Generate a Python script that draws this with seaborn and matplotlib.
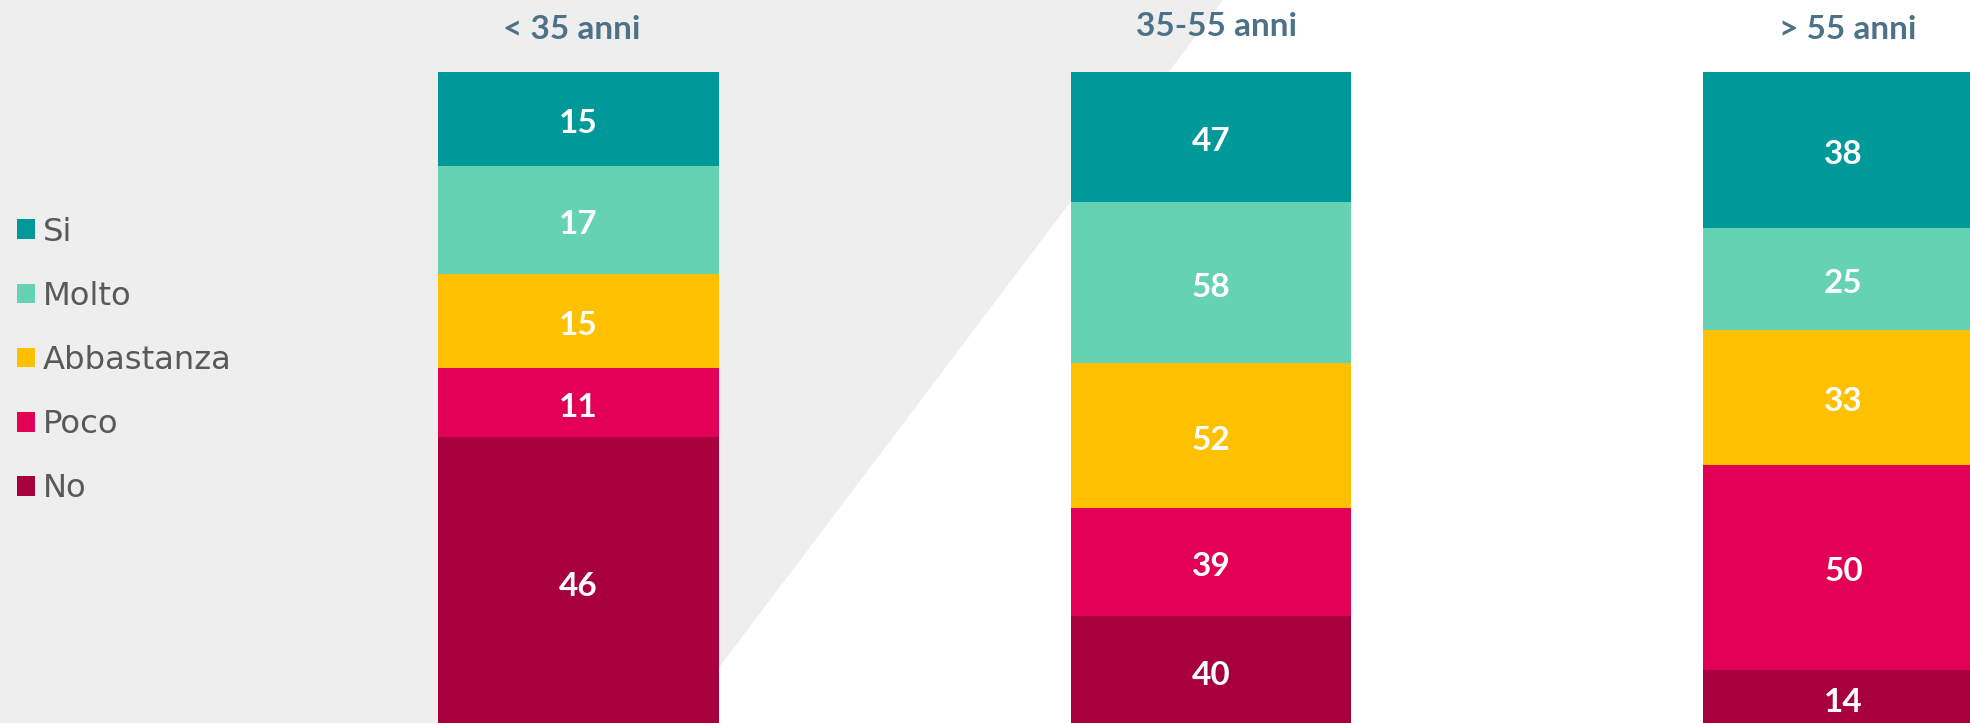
import numpy as np
import pandas as pd
import seaborn as sns
import matplotlib.pyplot as plt
import matplotlib.transforms as mtransforms
from matplotlib.patches import Polygon

# data
gruppi = ["< 35 anni", "35-55 anni", "> 55 anni"]
risposte = ["Si", "Molto", "Abbastanza", "Poco", "No"]
si = [15, 47, 38]
molto = [17, 58, 25]
abbastanza = [15, 52, 33]
poco = [11, 39, 50]
no = [46, 40, 14]

colori = ["#009999", "#66D2B4", "#FFC000", "#E10055", "#A8003F"]
colore_titoli = "#4D7288"

valori = dict(zip(risposte, [si, molto, abbastanza, poco, no]))
df = pd.DataFrame(
    [(g, r, valori[r][g]) for g in range(len(gruppi)) for r in risposte],
    columns=["gruppo", "risposta", "valore"],
)

sns.set_theme(style="white")
plt.rcParams["font.family"] = ["DejaVu Sans"]

fig = plt.figure(figsize=(19.7, 7.23), dpi=100)
fig.patch.set_facecolor("white")

# grey diagonal panel behind the left part of the slide
fig.patches.append(Polygon([(0, 1), (0.6208, 1), (0.3437, 0), (0, 0)], closed=True,
                           transform=fig.transFigure, facecolor="#EEEEEE",
                           edgecolor="none", zorder=-1))

ax = fig.add_axes([0, 0, 1, 1])
ax.set_facecolor("none")

sns.histplot(data=df, x="gruppo", hue="risposta", weights="valore",
             hue_order=risposte, palette=dict(zip(risposte, colori)),
             multiple="fill", discrete=True, shrink=0.444,
             alpha=1, linewidth=0, ax=ax)

ax.set_xlim(-0.9146, 2.2)
ax.set_ylim(0.0061, 1.1099)
ax.set_axis_off()

# value labels in the middle of each segment (baseline shifted by half digit height)
lab_trans = mtransforms.offset_copy(ax.transData, fig=fig, y=-14, units="dots")
for g in range(len(gruppi)):
    tot = sum(valori[r][g] for r in risposte)
    base = 0
    for r in reversed(risposte):
        v = valori[r][g]
        ax.text(g, (base + v / 2) / tot, str(v), transform=lab_trans,
                ha="center", va="baseline", color="white", fontsize=24,
                fontweight="bold", family="Lato")
        base += v

# group titles above the bars
trans = mtransforms.blended_transform_factory(ax.transData, fig.transFigure)
titoli_dx = [-0.010, 0.008, 0.006]
titoli_y = [0.9461, 0.9502, 0.9461]
for g, nome in enumerate(gruppi):
    ax.text(g + titoli_dx[g], titoli_y[g], nome, transform=trans, ha="center",
            va="baseline", color=colore_titoli, fontsize=24, fontweight="bold",
            family="Lato")

sns.move_legend(ax, "center left", bbox_to_anchor=(0.0086, 0.5015), title=None,
                frameon=False, fontsize=23.2, borderpad=0, borderaxespad=0,
                handlelength=0.56, handleheight=0.56, handletextpad=0.25,
                labelspacing=1.03)
for t in ax.get_legend().get_texts():
    t.set_color("#595959")

fig.savefig("out.png", dpi=100)
